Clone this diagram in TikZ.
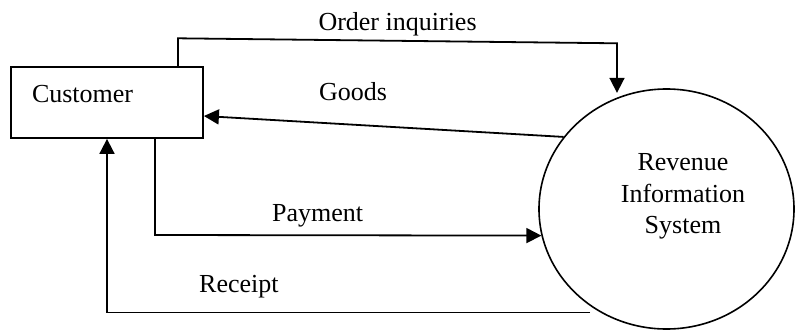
\documentclass[tikz,border=0pt]{standalone}
\usepackage{fontspec}
\setmainfont{Liberation Serif}
\usetikzlibrary{arrows.meta,shapes.geometric}
\begin{document}
\begin{tikzpicture}[x=1pt,y=-1pt,
  flow/.style={line width=1.8pt, -{Triangle[length=15pt,width=15pt]}},
  lbl/.style={font=\fontsize{26}{31.5}\selectfont, inner sep=0pt, anchor=base west},
  entity/.style={draw, line width=1.8pt, inner ysep=0pt, inner xsep=21pt,
    text width=150pt, align=left, text height=35pt, text depth=36pt,
    font=\fontsize{26}{31.5}\selectfont},
  process/.style={draw, ellipse, line width=1.6pt, minimum width=255pt,
    minimum height=240pt, inner sep=0pt}]
\useasboundingbox (0,0) rectangle (795,332);

% external entity and process
\node[entity] (cust) at (107,102.5) {Customer};
\node[process] (ris) at (666.5,209) {};
\node[font=\fontsize{26}{31.5}\selectfont, align=center, inner sep=0pt]
  (ristext) at (683,196.7) {Revenue\\Information\\System};

% routing points
\coordinate (oiL) at (178,38.3);
\coordinate (oiR) at (617,43.3);
\coordinate (payCorner) at (155,235);
\coordinate (rcStart) at (590,312.5);
\coordinate (rcCorner) at (107,312.5);

% data flows
\draw[flow, shorten >=4pt] (cust.north -| oiL) -- (oiL) -- (oiR) -- (ris.113.6 -| oiR);
\draw[flow] (ris.145) -- ([yshift=-13.5pt]cust.east);
\draw[flow] (cust.south -| payCorner) -- (payCorner) -- (ris.192);
\draw[flow] (rcStart) -- (rcCorner) -- (cust.south -| rcCorner);

% flow labels
\node[lbl] (lOrder) at (318.3,30) {Order inquiries};
\node[lbl] (lGoods) at (319,100.5) {Goods};
\node[lbl] (lPay) at (272,221) {Payment};
\node[lbl] (lRec) at (199,292.7) {Receipt};
\end{tikzpicture}
\end{document}
